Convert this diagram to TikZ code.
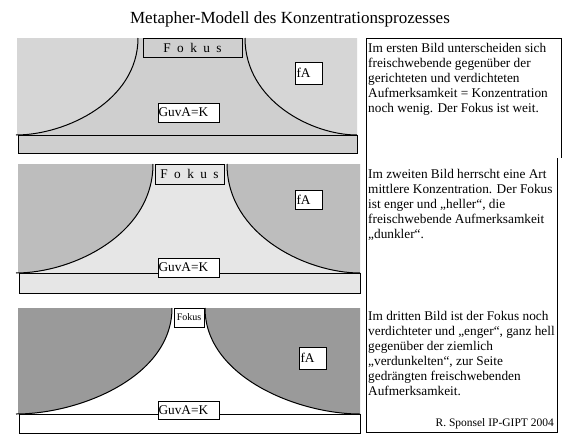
\documentclass[tikz,border=0pt]{standalone}
\usepackage{fontspec}
\setmainfont{Liberation Serif}
\definecolor{pAout}{HTML}{D6D6D6}
\definecolor{pAin}{HTML}{CFCFCF}
\definecolor{pBout}{HTML}{BDBDBD}
\definecolor{pBin}{HTML}{E6E6E6}
\definecolor{pCout}{HTML}{9A9A9A}
\tikzset{
  edge/.style={draw=black,line width=1pt},
  lbl/.style={draw=black,line width=1pt,fill=white,inner sep=0pt,font=\fontsize{13.3}{15}\selectfont},
  txt/.style={inner sep=0pt,anchor=north west,align=left,font=\fontsize{13.3}{15}\selectfont},
}
\newcommand{\fks}{F\hspace{6.4pt}o\hspace{6.4pt}k\hspace{6.4pt}u\hspace{6.4pt}s}
\begin{document}
\begin{tikzpicture}[x=1pt,y=-1pt]
\useasboundingbox (0,0) rectangle (566,445);
\fill[white] (0,0) rectangle (566,445);
% title
\node[anchor=base,inner sep=0pt,font=\fontsize{17}{20}\selectfont] (title) at (290,23) {Metapher-Modell des Konzentrationsprozesses};

% ---------- panel 1 ----------
\fill[pAin] (17,38) rectangle (357,135);
\fill[pAout] (17,38) -- (138,38) .. controls (138,101) and (65.4,135) .. (17,135) -- cycle;
\fill[pAout] (357,38) -- (245,38) .. controls (245,101) and (312.2,135) .. (357,135) -- cycle;
\draw[edge,fill=pAin] (18,135) rectangle (357,153);
\draw[edge] (138,38) .. controls (138,101) and (65.4,135) .. (16,135);
\draw[edge] (245,38) .. controls (245,101) and (312.2,135) .. (357,135);
\node[lbl,fill=pAin,minimum width=99pt,minimum height=19pt] (fok1) at (192.5,47.5) {\fks};
\node[lbl,minimum width=27pt,minimum height=22pt,text width=24pt,align=left] (fa1) at (308.5,73) {fA};
\node[lbl,minimum width=61pt,minimum height=19pt,text width=60pt,align=left] (g1) at (188.5,112.5) {GuvA=K};

% ---------- panel 2 ----------
\fill[pBin] (18,164) rectangle (360,273);
\fill[pBout] (18,164) -- (153,164) .. controls (153,234.85) and (72,273) .. (18,273) -- cycle;
\fill[pBout] (360,164) -- (227,164) .. controls (227,234.85) and (306.8,273) .. (360,273) -- cycle;
\draw[edge,fill=pBin] (19,273) rectangle (360,293);
\draw[edge] (153,164) .. controls (153,234.85) and (72,273) .. (16,273);
\draw[edge] (227,164) .. controls (227,234.85) and (306.8,273) .. (360,273);
\node[lbl,fill=pBin,minimum width=69pt,minimum height=20pt] (fok2) at (189.5,174) {\fks};
\node[lbl,minimum width=27pt,minimum height=19pt,text width=24pt,align=left] (fa2) at (308.5,199.5) {fA};
\node[lbl,minimum width=61pt,minimum height=19pt,text width=60pt,align=left] (g2) at (188.5,267.5) {GuvA=K};

% ---------- panel 3 ----------
\fill[white] (18,308) rectangle (360,414);
\fill[pCout] (18,308) -- (172,308) .. controls (172,376.9) and (79.6,414) .. (18,414) -- cycle;
\fill[pCout] (360,308) -- (205,308) .. controls (205,376.9) and (298,414) .. (360,414) -- cycle;
\draw[edge,fill=white] (19,414) rectangle (360,433);
\draw[edge] (172,308) .. controls (172,376.9) and (79.6,414) .. (16,414);
\draw[edge] (205,308) .. controls (205,376.9) and (298,414) .. (360,414);
\node[lbl,minimum width=30pt,minimum height=19pt,font=\fontsize{10}{12}\selectfont] (fok3) at (189,317.5) {Fokus};
\node[lbl,minimum width=27pt,minimum height=22pt,text width=24pt,align=left] (fa3) at (312.5,358) {fA};
\node[lbl,minimum width=61pt,minimum height=18pt,text width=60pt,align=left] (g3) at (188.5,410) {GuvA=K};

% ---------- text boxes ----------
\draw[edge] (366,158) -- (366,38) -- (561,38) -- (561,158);
\draw[edge] (366,158) -- (366,432) -- (557,432) -- (557,158);
\node[txt] (t1) at (368,43.5) {Im ersten Bild unterscheiden sich\\freischwebende gegenüber der\\gerichteten und verdichteten\\Aufmerksamkeit = Konzentration\\noch wenig. Der Fokus ist weit.};
\node[txt] (t2) at (368,169.5) {Im zweiten Bild herrscht eine Art\\mittlere Konzentration. Der Fokus\\ist enger und „heller“, die\\freischwebende Aufmerksamkeit\\„dunkler“.};
\node[txt] (t3) at (368,311) {Im dritten Bild ist der Fokus noch\\verdichteter und „enger“, ganz hell\\gegenüber der ziemlich\\„verdunkelten“, zur Seite\\gedrängten freischwebenden\\Aufmerksamkeit.};
\node[anchor=base east,inner sep=0pt,font=\fontsize{11.5}{13}\selectfont] (sig) at (554,426) {R. Sponsel IP-GIPT 2004};
\end{tikzpicture}
\end{document}
